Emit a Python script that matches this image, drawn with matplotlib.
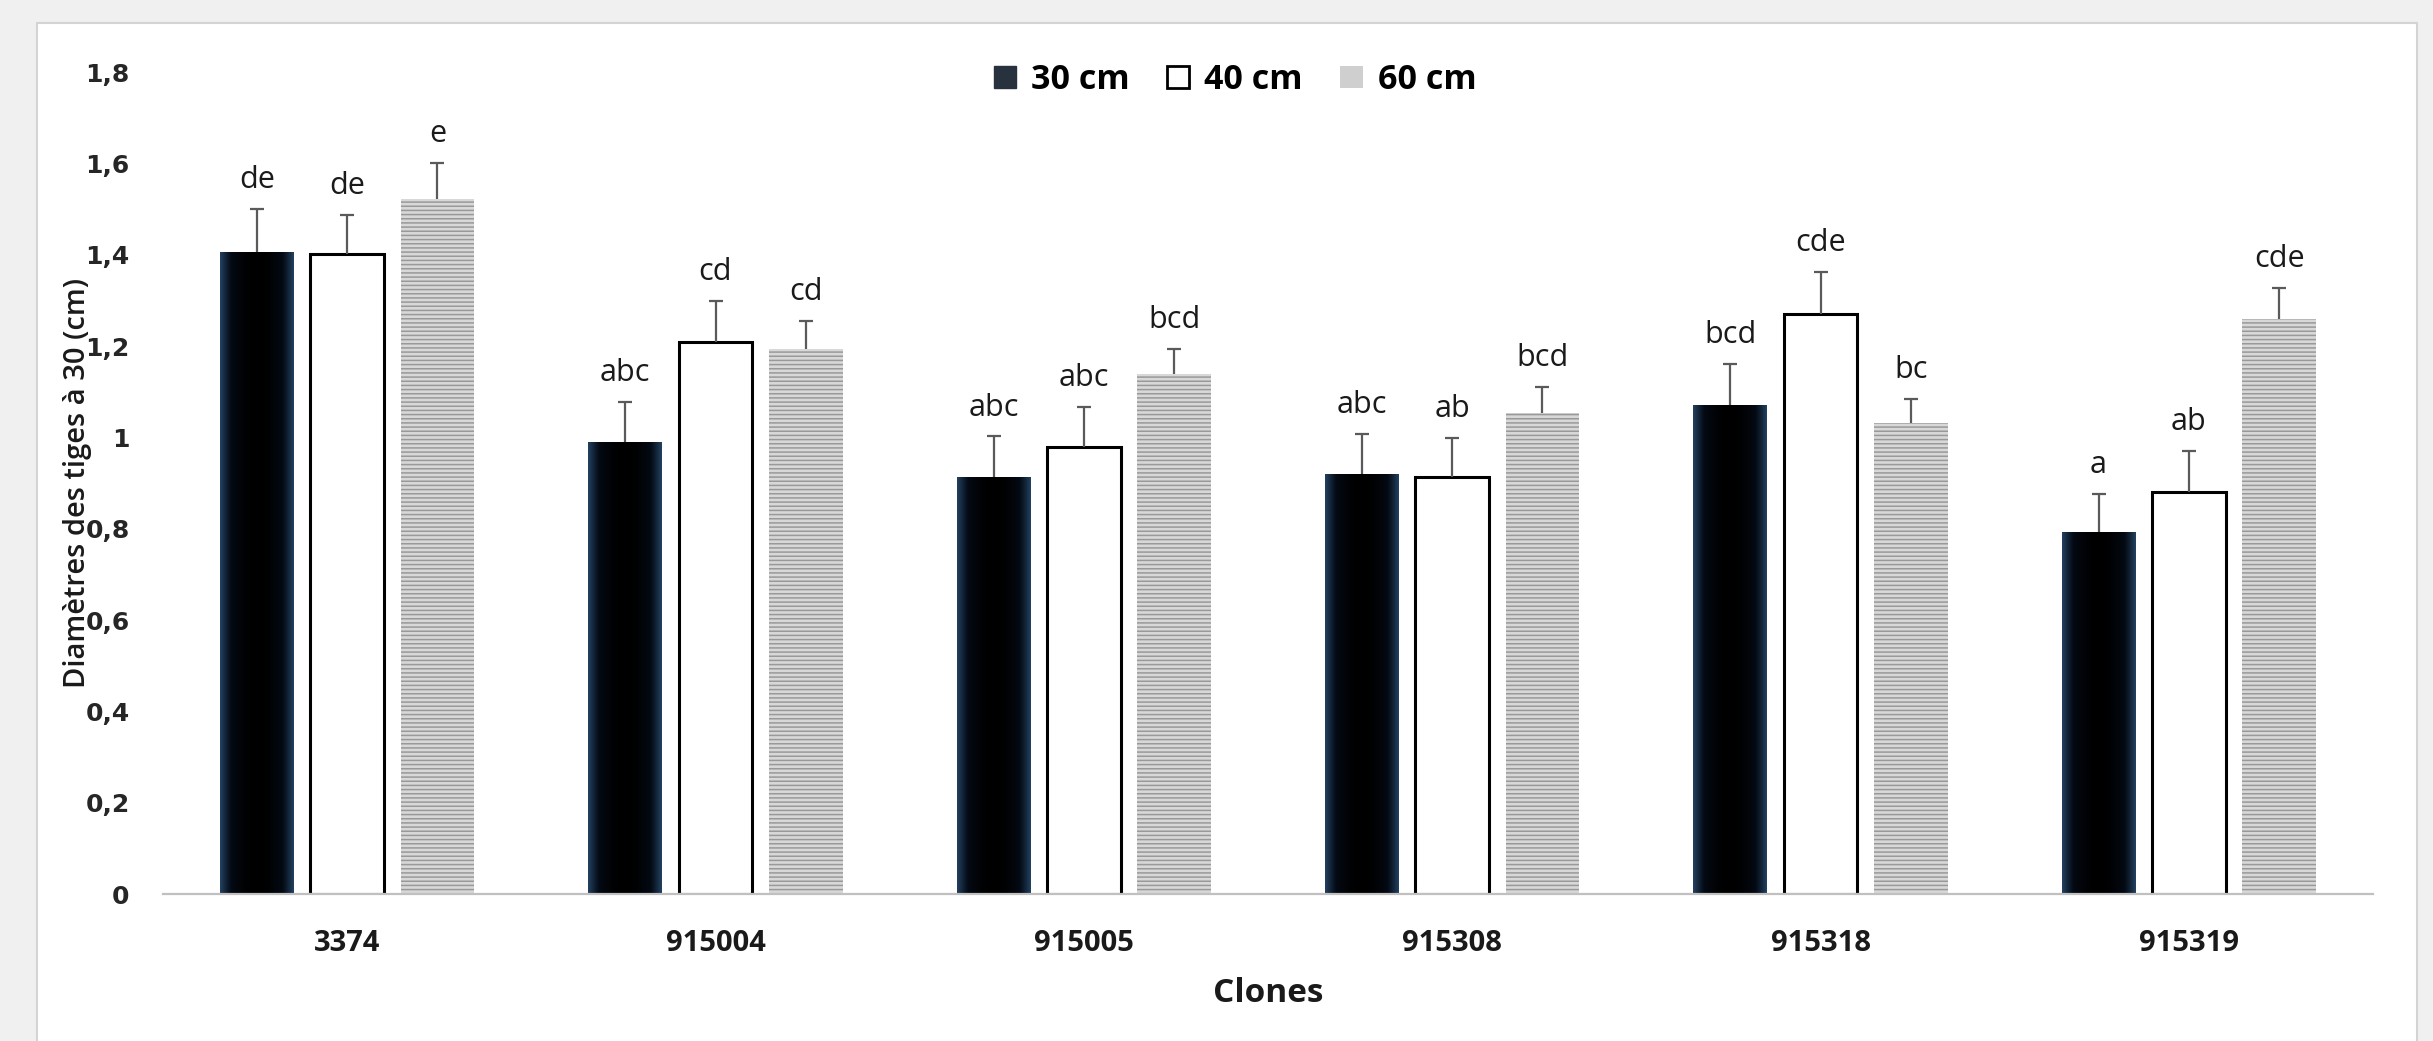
import numpy as np
import matplotlib
matplotlib.use("Agg")
import matplotlib.pyplot as plt
from matplotlib.patches import Rectangle, Patch
from matplotlib.colors import LinearSegmentedColormap

# data
clones = ["3374", "915004", "915005", "915308", "915318", "915319"]
series = ["30 cm", "40 cm", "60 cm"]
d30 = [1.406, 0.990, 0.913, 0.920, 1.071, 0.792]
d40 = [1.401, 1.209, 0.978, 0.914, 1.271, 0.881]
d60 = [1.522, 1.193, 1.139, 1.054, 1.032, 1.259]
e30 = [0.094, 0.087, 0.089, 0.087, 0.090, 0.085]
e40 = [0.086, 0.089, 0.088, 0.085, 0.091, 0.090]
e60 = [0.079, 0.062, 0.055, 0.057, 0.053, 0.068]
lab30 = ["de", "abc", "abc", "abc", "bcd", "a"]
lab40 = ["de", "cd", "abc", "ab", "cde", "ab"]
lab60 = ["e", "cd", "bcd", "bcd", "bc", "cde"]
yticks = [0, 0.2, 0.4, 0.6, 0.8, 1.0, 1.2, 1.4, 1.6, 1.8]
ytick_labels = ["0", "0,2", "0,4", "0,6", "0,8", "1", "1,2", "1,4", "1,6", "1,8"]

plt.rcParams['font.family'] = ['Open Sans', 'DejaVu Sans']
plt.rcParams['hatch.linewidth'] = 1.1

fig = plt.figure(figsize=(24.33, 10.41), dpi=100, facecolor='#f0f0f0')
# white chart area with thin border
fig.patches.append(Rectangle((37/2433, -0.01), (2417-37)/2433, 1 - 23/1041 + 0.01,
                             transform=fig.transFigure, facecolor='white',
                             edgecolor='#d4d4d4', linewidth=1.5, zorder=-5))

ax = fig.add_axes([163/2433, 1 - 894/1041, (2373-163)/2433, (894-72)/1041], zorder=2)
ax.set_facecolor('none')

x = np.arange(len(clones))
w = 0.2
off = 0.245

# dark bars: black core fading to navy at the sides
grad = np.abs(np.linspace(-1, 1, 64))[None, :] ** 2
dark = LinearSegmentedColormap.from_list("dk", ["#000000", "#040a14", "#22405f"])

b30 = ax.bar(x - off, d30, w, color='black', linewidth=0, zorder=2)
for b in b30:
    im = ax.imshow(grad, extent=[b.get_x(), b.get_x() + b.get_width(), 0, b.get_height()],
                   aspect='auto', cmap=dark, zorder=2.1, interpolation='bicubic')
    im.set_clip_path(b)
b40 = ax.bar(x, d40, w, color='white', edgecolor='black', linewidth=2.2, zorder=2)
b60 = ax.bar(x + off, d60, w, color='#d8d8d8', edgecolor='#999999', linewidth=0,
             hatch='----', zorder=2)

for xs, vals, errs, labs in [(x - off, d30, e30, lab30), (x, d40, e40, lab40),
                             (x + off, d60, e60, lab60)]:
    eb = ax.errorbar(xs, vals, yerr=[np.zeros(len(vals)), errs], fmt='none',
                     ecolor='#5a5a5a', elinewidth=1.6, capsize=5, capthick=1.6, zorder=3)
    eb[1][0].set_visible(False)
    for xi, v, e, t in zip(xs, vals, errs, labs):
        ax.annotate(t, (xi, v + e), xytext=(0, 15), textcoords='offset points',
                    ha='center', va='baseline', fontsize=22, color='#1a1a1a')

ax.set_xlim(-0.5, len(clones) - 0.5)
ax.set_ylim(0, 1.8)
ax.set_yticks(yticks)
ax.set_yticklabels(ytick_labels, fontsize=18, fontweight='bold', family='DejaVu Sans',
                   color='#262626')
ax.set_xticks(x)
ax.set_xticklabels(clones, fontsize=21, fontweight='bold', color='#1a1a1a')
ax.tick_params(axis='y', length=0, pad=24)
ax.tick_params(axis='x', length=0, pad=25)
for s in ['top', 'right', 'left']:
    ax.spines[s].set_visible(False)
ax.spines['bottom'].set_color('#c0c0c0')
ax.spines['bottom'].set_linewidth(1.6)

ax.set_xlabel("Clones", fontsize=24, fontweight='bold', color='#1a1a1a', labelpad=14)
ax.set_ylabel("Diamètres des tiges à 30 (cm)", fontsize=21, fontweight='semibold',
              color='#1a1a1a')
ax.yaxis.set_label_coords(-(163 - 92)/2210, 0.5)

handles = [Patch(facecolor='#28323e', edgecolor='#28323e'),
           Patch(facecolor='white', edgecolor='black', linewidth=2),
           Patch(facecolor='#cfcfcf', edgecolor='#b0b0b0', linewidth=0)]
fig.legend(handles, series, loc='center', bbox_to_anchor=(1235/2433, 1 - 80/1041),
           ncol=3, frameon=False, prop={'size': 24.5, 'weight': 'bold'},
           handlelength=0.65, handleheight=0.65, handletextpad=0.45, columnspacing=1.1)

fig.savefig("out.png", dpi=100, facecolor=fig.get_facecolor())
